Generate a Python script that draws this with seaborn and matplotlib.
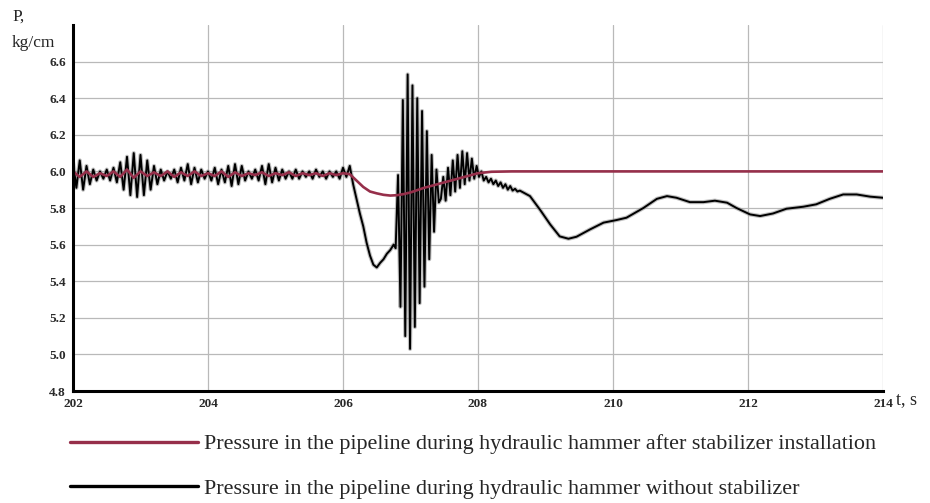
import numpy as np
import pandas as pd
import matplotlib
matplotlib.use("Agg")
import matplotlib.pyplot as plt
import seaborn as sns

# ---------------- data ----------------
# Black series: pressure without stabilizer
noise_start, noise_end = 202.0, 206.1
black_noise = [
    6.05, 5.91, 6.06, 5.90, 6.03, 5.93, 6.01, 5.95, 6.00, 5.96,
    6.01, 5.95, 6.02, 5.94, 6.05, 5.90, 6.08, 5.87, 6.10, 5.86,
    6.09, 5.87, 6.06, 5.90, 6.03, 5.93, 6.01, 5.95, 6.00, 5.96,
    6.01, 5.94, 6.02, 5.95, 6.04, 5.93, 6.02, 5.94, 6.01, 5.96,
    6.00, 5.95, 6.02, 5.93, 6.01, 5.94, 6.03, 5.92, 6.04, 5.93,
    6.03, 5.95, 6.00, 5.96, 6.01, 5.95, 6.03, 5.93, 6.04, 5.94,
    6.02, 5.95, 6.01, 5.96, 6.00, 5.96, 6.01, 5.96, 6.00, 5.97,
    6.00, 5.96, 6.01, 5.97, 6.00, 5.96, 6.00, 5.97, 6.00, 5.96,
    6.02, 5.97, 6.03,
]
drop_t = [206.15, 206.2, 206.25, 206.3, 206.35, 206.4, 206.45, 206.5,
          206.55, 206.6, 206.65, 206.7, 206.75]
drop_v = [5.93, 5.85, 5.77, 5.70, 5.61, 5.54, 5.49, 5.475,
          5.50, 5.52, 5.55, 5.57, 5.60]
burst_start, burst_end = 206.78, 207.42
black_burst = [5.58, 5.98, 5.26, 6.39, 5.10, 6.53, 5.03, 6.47, 5.15, 6.40,
               5.28, 6.33, 5.37, 6.22, 5.52, 6.09, 5.67, 6.01, 5.83]
settle_start, settle_end = 207.45, 208.05
black_settle = [5.85, 5.97, 5.84, 6.02, 5.87, 6.06, 5.89, 6.09, 5.91, 6.11,
                5.93, 6.10, 5.95, 6.07, 5.96, 6.03, 5.97, 6.00]
decay_start, decay_end = 208.085, 208.62
black_decay = [5.95, 5.97, 5.94, 5.96, 5.93, 5.95, 5.92, 5.94, 5.91, 5.93,
               5.90, 5.92, 5.895, 5.905, 5.89, 5.895]
smooth_t = [208.77, 208.92, 209.07, 209.21, 209.34, 209.46, 209.66, 209.86,
            210.05, 210.2, 210.45, 210.65, 210.8, 210.94, 211.14, 211.34,
            211.51, 211.69, 211.83, 212.03, 212.18, 212.37, 212.57, 212.82,
            213.01, 213.21, 213.41, 213.61, 213.81, 214.0]
smooth_v = [5.865, 5.79, 5.71, 5.645, 5.632, 5.643, 5.683, 5.72,
            5.734, 5.747, 5.80, 5.85, 5.865, 5.856, 5.832, 5.832,
            5.84, 5.829, 5.80, 5.765, 5.756, 5.77, 5.796, 5.807,
            5.82, 5.85, 5.874, 5.874, 5.862, 5.856]

# Red series: pressure after stabilizer installation
red_noise_start, red_noise_end = 202.0, 206.0
red_noise = [6.00, 5.97, 6.00, 5.97, 5.99, 5.975, 6.00, 5.97, 6.01, 5.965,
             6.00, 5.975, 5.995, 5.975, 6.00, 5.97, 5.995, 5.975, 6.00, 5.975,
             5.99, 5.975, 6.00, 5.97, 5.995, 5.975, 5.99, 5.98, 5.995, 5.975,
             5.99, 5.98, 5.995, 5.975, 5.99, 5.98, 5.99, 5.975, 5.99, 5.98, 5.99]
red_dip_t = [206.1, 206.2, 206.3, 206.4, 206.5, 206.6, 206.7, 206.8, 206.9,
             207.0, 207.2, 207.4, 207.6, 207.8, 208.0, 208.2, 208.5, 214.0]
red_dip_v = [5.985, 5.95, 5.915, 5.89, 5.88, 5.872, 5.868, 5.87, 5.876,
             5.885, 5.91, 5.93, 5.95, 5.97, 5.99, 5.998, 6.0, 6.0]

x_ticks = [202, 204, 206, 208, 210, 212, 214]
y_ticks = [4.8, 5.0, 5.2, 5.4, 5.6, 5.8, 6.0, 6.2, 6.4, 6.6]
label_red = "Pressure in the pipeline during hydraulic hammer after stabilizer installation"
label_black = "Pressure in the pipeline during hydraulic hammer without stabilizer"

# ---------------- assemble ----------------
black_t = np.concatenate([
    np.linspace(noise_start, noise_end, len(black_noise)),
    drop_t,
    np.linspace(burst_start, burst_end, len(black_burst)),
    np.linspace(settle_start, settle_end, len(black_settle)),
    np.linspace(decay_start, decay_end, len(black_decay)),
    smooth_t,
])
black_v = np.concatenate([black_noise, drop_v, black_burst, black_settle,
                          black_decay, smooth_v])
df_black = pd.DataFrame({"t": black_t, "P": black_v})

red_t = np.concatenate([np.linspace(red_noise_start, red_noise_end, len(red_noise)),
                        red_dip_t])
red_v = np.concatenate([red_noise, red_dip_v])
df_red = pd.DataFrame({"t": red_t, "P": red_v})

# ---------------- plot ----------------
sns.set_style("white")
plt.rcParams["font.family"] = ["Liberation Serif", "DejaVu Serif"]

fig = plt.figure(figsize=(9.3, 5.03), dpi=100)
ax = fig.add_axes([73 / 930, 1 - 391 / 503, (883 - 73) / 930, (391 - 25) / 503])

red_col = "#962f4a"
sns.lineplot(data=df_black, x="t", y="P", ax=ax, color="#8c8c8c", lw=3.0,
             alpha=0.55, estimator=None, sort=False)
sns.lineplot(data=df_black, x="t", y="P", ax=ax, color="black", lw=1.4,
             estimator=None, sort=False, label=label_black)
sns.lineplot(data=df_red, x="t", y="P", ax=ax, color=red_col, lw=1.9,
             estimator=None, sort=False, label=label_red)

ax.set_xlim(202, 214)
ax.set_ylim(4.8, 6.8)
ax.set_xticks(x_ticks)
ax.set_yticks(y_ticks)
ax.set_xticklabels([str(v) for v in x_ticks])
ax.set_yticklabels([f"{v:.1f}" for v in y_ticks])
ax.set_xlabel("")
ax.set_ylabel("")
ax.grid(True, color="#b9b9b9", lw=0.9)
for s in ["top", "right"]:
    ax.spines[s].set_visible(False)
for s in ["left", "bottom"]:
    ax.spines[s].set_linewidth(2.2)
    ax.spines[s].set_color("black")
ax.tick_params(axis="both", direction="inout", length=6, width=1.5,
               labelsize=9.5, pad=2, colors="black")
for lab in ax.get_xticklabels() + ax.get_yticklabels():
    lab.set_fontweight("bold")
    lab.set_color("#2a2a2a")

fig.text(12 / 930, 1 - 21 / 503, "P,", fontsize=12.5, ha="left", va="baseline")
fig.text(12 / 930, 1 - 47 / 503, "kg/cm", fontsize=12.5, ha="left", va="baseline")
fig.text(896 / 930, 1 - 404 / 503, "t, s", fontsize=13, ha="left", va="baseline")

handles, labels = ax.get_legend_handles_labels()
order = [labels.index(label_red), labels.index(label_black)]
leg = ax.legend([handles[i] for i in order], [labels[i] for i in order],
                loc="upper left", bbox_to_anchor=(70 / 930, 1 - 434 / 503),
                bbox_transform=fig.transFigure, frameon=False, borderpad=0,
                borderaxespad=0, handlelength=5.8, handletextpad=0.27,
                labelspacing=1.08, fontsize=15.9)
for line in leg.get_lines():
    line.set_linewidth(2.4)

fig.savefig("out.png", dpi=100)
